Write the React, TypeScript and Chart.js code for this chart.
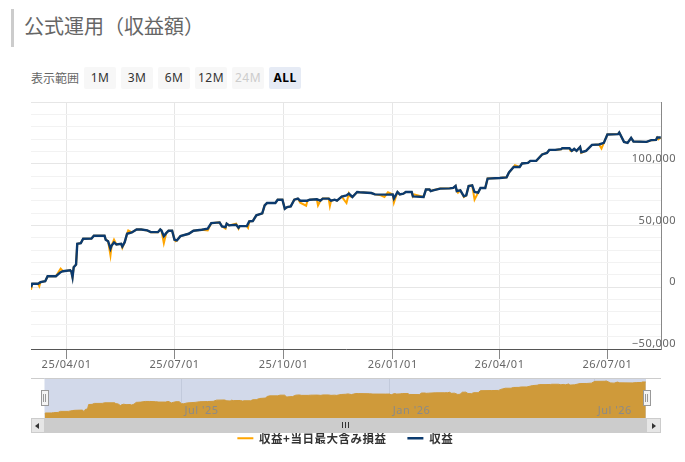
import React, { useEffect, useRef } from "react";
import { Chart, registerables } from "chart.js";

Chart.register(...registerables);

// Days counted from 2025-03-02
const days = [0,1,6,8,12,14,21,25,27,33,34,35,36,38,39,42,44,51,53,62,63,65,67,68,70,72,76,77,79,81,85,89,93,98,101,107,109,110,112,114,116,119,121,123,126,133,137,144,149,152,159,161,164,165,167,173,175,176,182,184,187,190,195,197,199,206,208,212,214,216,219,222,225,227,233,235,241,244,246,251,253,256,258,262,266,268,271,275,277,287,290,301,305,306,309,311,314,316,321,322,331,333,336,337,339,345,353,356,358,359,362,365,367,369,372,374,377,379,383,385,395,401,403,407,412,414,419,421,426,431,435,437,442,447,448,454,456,458,460,463,464,468,473,479,483,486,495,496,500,503,506,508,519,523,527,528,531];
const profit = [0,2800,2800,4100,4900,8900,8900,12200,13000,13800,12700,8100,16200,18400,35200,35700,39300,39500,41700,41700,38500,37300,31200,33800,36300,34700,35200,33000,36500,43300,44400,46800,46800,46000,44600,44600,46800,46000,41400,43800,45800,45800,38500,37900,41400,43300,45800,46600,47400,51900,52500,49300,48700,51500,50100,50600,48200,49500,49500,53300,53600,58200,59800,66300,68200,68200,70900,70900,63600,64900,65500,70900,71800,70100,70100,70900,71200,70100,71800,71800,70100,70900,70100,73400,74400,75800,73100,77100,76900,76300,75200,75000,75200,71800,77100,75200,75800,77100,77100,73600,73100,79100,79100,77900,78500,79900,80100,80400,82000,77900,78500,73600,74400,82000,82500,77100,76600,80400,80400,88000,88500,89000,92900,97400,97400,100200,100700,102300,102300,107500,108800,111200,111200,111800,112600,112600,110400,112000,110400,113600,109300,110400,115300,115600,116900,123700,124000,125300,117700,116900,120900,118000,117700,119100,119300,121300,121300];
// Where profit + worst same-day unrealised P/L leaves the profit line
const swingDays = [0,7,25,67,70,77,82,112,122,149,164,173,175,183,227,232,242,252,266,269,295,298,301,306,323,360,365,374,408,455,464,481,529];
const swingValues = [-2000,800,15000,25700,38500,32000,46000,35700,37300,46000,47400,51500,47400,48200,68500,66000,66300,65800,68200,73500,74400,73100,76900,68500,75200,76600,73000,70900,98800,110400,108800,112300,119800];

const tickDays = [30,121,213,305,395,486];
const tickLabels = ["25/04/01","25/07/01","25/10/01","26/01/01","26/04/01","26/07/01"];
const navTickDays = [121,305,486];
const navTickLabels = ["Jul '25","Jan '26","Jul '26"];
const rangeButtons = ["1M","3M","6M","12M","24M","ALL"];
const seriesNames = ["収益+当日最大含み損益","収益"];

const SANS = "'Noto Sans', 'Noto Sans CJK JP', sans-serif";
const CJK = "'Noto Sans CJK JP', sans-serif";
const lastDay = 531.2;

const spacing = {
  id: "spacing",
  beforeDraw(chart: any) { chart.ctx.letterSpacing = "0.5px"; },
};
const legendShift = {
  id: "legendShift",
  afterLayout(chart: any) {
    if (chart.legend) { chart.legend.left -= 4; chart.legend.right -= 4; }
  },
};
const navMask = {
  id: "navMask",
  beforeDraw(chart: any) {
    const { ctx, chartArea: a } = chart;
    ctx.save();
    ctx.fillStyle = "#d2d9ea";
    ctx.fillRect(a.left, a.top, a.right - a.left, a.bottom - a.top);
    ctx.restore();
  },
};

const box = (left: number, top: number, width: number, height: number, extra: any = {}): any => ({
  position: "absolute", left, top, width, height, boxSizing: "border-box", ...extra,
});

function Handle({ left }: { left: number }) {
  return (
    <div style={box(left, 390, 8, 16, { background: "#f4f4f4", border: "1px solid #999" })}>
      <div style={box(1.5, 3, 1, 8, { background: "#999" })} />
      <div style={box(3.5, 3, 1, 8, { background: "#999" })} />
    </div>
  );
}

export default function App() {
  const mainRef = useRef<HTMLCanvasElement>(null);
  const navRef = useRef<HTMLCanvasElement>(null);

  useEffect(() => {
    const profitPts = days.map((d, i) => ({ x: d, y: profit[i] }));
    const merged = new Map<number, number>(days.map((d, i) => [d, profit[i]] as [number, number]));
    swingDays.forEach((d, i) => merged.set(d, swingValues[i]));
    const swingPts = [...merged.entries()].sort((a, b) => a[0] - b[0]).map(([x, y]) => ({ x, y }));

    const main = new Chart(mainRef.current!, {
      type: "line",
      data: {
        datasets: [
          { label: seriesNames[0], data: swingPts, order: 2, borderColor: "#ffa500", backgroundColor: "#ffa500", borderWidth: 2, pointRadius: 0, pointStyle: "line", tension: 0 },
          { label: seriesNames[1], data: profitPts, order: 1, borderColor: "#0b3a6e", backgroundColor: "#0b3a6e", borderWidth: 2.4, pointRadius: 0, pointStyle: "line", tension: 0 },
        ],
      } as any,
      plugins: [spacing, legendShift],
      options: {
        animation: false,
        responsive: false,
        devicePixelRatio: 1,
        parsing: false,
        layout: { padding: { top: 102, left: 31, right: 24, bottom: 16 } },
        plugins: {
          tooltip: { enabled: false },
          legend: {
            position: "bottom",
            labels: {
              usePointStyle: true,
              pointStyleWidth: 16,
              padding: 21,
              color: "#333",
              font: { family: CJK, size: 11.5, weight: "bold" },
              sort: (a: any, b: any) => a.datasetIndex - b.datasetIndex,
            },
          },
        },
        scales: {
          x: {
            type: "linear",
            min: 0,
            max: lastDay,
            afterBuildTicks: (s: any) => { s.ticks = tickDays.map((value) => ({ value })); },
            afterFit: (s: any) => { s.height = 62.5; },
            grid: { color: "#e6e6e6", lineWidth: 1, tickColor: "#888", tickLength: 10 },
            border: { color: "#555", width: 1 },
            ticks: {
              autoSkip: false, maxRotation: 0, padding: -1, color: "#666",
              font: { family: SANS, size: 11 },
              callback: (v: any) => tickLabels[tickDays.indexOf(v)] ?? "",
            },
          },
          y: {
            position: "right",
            min: -50000,
            max: 150000,
            afterFit: (s: any) => { s.width = 0; },
            grid: {
              drawTicks: false,
              color: (c: any) => (c.tick && c.tick.value % 50000 === 0 ? "#e6e6e6" : "#f2f2f2"),
            },
            border: { color: "#888", width: 1 },
            ticks: {
              stepSize: 10000, maxTicksLimit: 30, autoSkip: false, mirror: true, padding: 15, labelOffset: -5,
              color: "#666", font: { family: SANS, size: 11 },
              callback: (v: any) => (v % 50000 === 0 && v !== 150000 ? Number(v).toLocaleString("en-US").replace("-", "\u2212") : ""),
            },
          },
        },
      } as any,
    });

    const nav = new Chart(navRef.current!, {
      type: "line",
      data: {
        datasets: [
          { data: profitPts, borderColor: "#cf9a3a", backgroundColor: "#cf9a3a", borderWidth: 1, pointRadius: 0, fill: "start", tension: 0 },
        ],
      } as any,
      plugins: [navMask, spacing],
      options: {
        animation: false,
        responsive: false,
        devicePixelRatio: 1,
        parsing: false,
        layout: { padding: { left: 13.5, right: 15, top: 0, bottom: 0 } },
        plugins: { legend: { display: false }, tooltip: { enabled: false } },
        scales: {
          x: {
            type: "linear",
            min: 0,
            max: lastDay,
            afterBuildTicks: (s: any) => { s.ticks = navTickDays.map((value) => ({ value })); },
            afterFit: (s: any) => { s.height = 0; },
            grid: { color: "#c2cadc", drawTicks: false },
            border: { display: false },
            ticks: {
              autoSkip: false, maxRotation: 0, align: "start", mirror: true, padding: 1, labelOffset: 3, z: 1,
              color: "#8a8a8a", font: { family: SANS, size: 11 },
              callback: (v: any) => navTickLabels[navTickDays.indexOf(v)] ?? "",
            },
          },
          y: { display: false, min: -16400, max: 136500 },
        },
      } as any,
    });

    return () => { main.destroy(); nav.destroy(); };
  }, []);

  return (
    <div style={{ position: "fixed", left: 0, top: 0, width: 685, height: 462, overflow: "hidden", background: "#fff", fontFamily: CJK }}>
      <div style={box(11, 9, 3, 38, { background: "#ccc" })} />
      <div style={box(24, 11, 300, 30, { fontSize: 20, lineHeight: "30px", color: "#666" })}>公式運用（収益額）</div>
      <div style={box(31, 68, 52, 20, { fontSize: 12, lineHeight: "20px", color: "#666", whiteSpace: "nowrap" })}>表示範囲</div>
      {rangeButtons.map((label, i) => (
        <div key={label} style={box(84 + 37 * i, 67, 32, 22, {
          background: label === "ALL" ? "#e6ebf5" : "#f7f7f7",
          borderRadius: 2,
          fontFamily: SANS,
          fontSize: 12,
          letterSpacing: 0.5,
          lineHeight: "21px",
          textAlign: "center",
          fontWeight: label === "ALL" ? 700 : 400,
          color: label === "24M" ? "#ccc" : label === "ALL" ? "#000" : "#333",
        })}>{label}</div>
      ))}
      <canvas ref={mainRef} width={685} height={470} style={box(0, 0, 685, 470, { display: "block" })} />
      <div style={box(31, 378, 630, 1, { background: "#ccc" })} />
      <canvas ref={navRef} width={630} height={40} style={box(31, 378, 630, 40, { display: "block" })} />
      <div style={box(44.5, 378, 601.5, 1, { background: "#ccc" })} />
      <div style={box(31, 418, 630, 15, { background: "#ccc" })} />
      <div style={box(31, 418, 14, 15, { background: "#e6e6e6", border: "1px solid #ccc" })}>
        <div style={box(3, 3.5, 0, 0, { borderTop: "3px solid transparent", borderBottom: "3px solid transparent", borderRight: "4px solid #333" })} />
      </div>
      <div style={box(646, 418, 15, 15, { background: "#e6e6e6", border: "1px solid #ccc" })}>
        <div style={box(5, 3.5, 0, 0, { borderTop: "3px solid transparent", borderBottom: "3px solid transparent", borderLeft: "4px solid #333" })} />
      </div>
      {[342, 345, 348].map((x) => <div key={x} style={box(x, 422, 1, 6, { background: "#333" })} />)}
      <Handle left={40.5} />
      <Handle left={642.7} />
    </div>
  );
}
